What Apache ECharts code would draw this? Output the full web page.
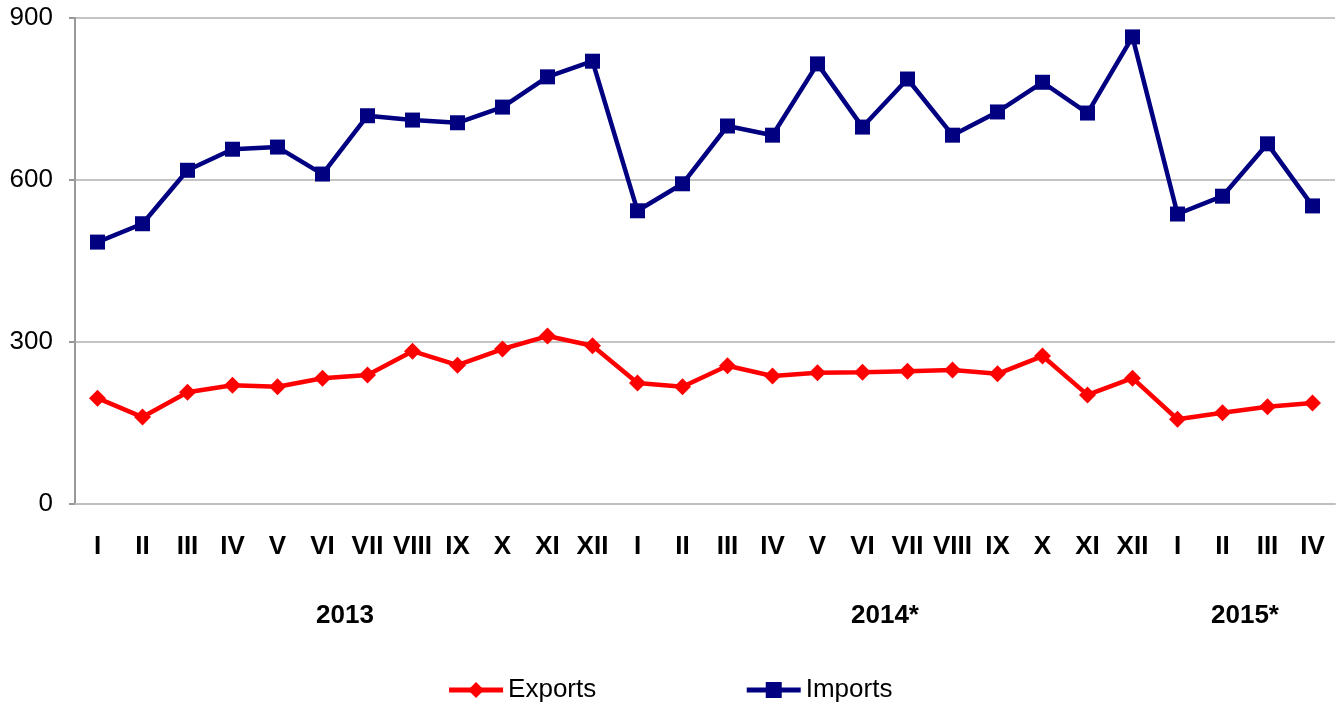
<!DOCTYPE html>
<html>
<head>
<meta charset="utf-8">
<script src="https://cdn.jsdelivr.net/npm/echarts@6/dist/echarts.min.js"></script>
<style>
  html, body { margin: 0; padding: 0; background: #fff; }
  #chart { width: 1339px; height: 702px; }
</style>
</head>
<body>
<div id="chart"></div>
<script>
// months (roman numerals), 2013 .. 2015 IV
var months = ['I','II','III','IV','V','VI','VII','VIII','IX','X','XI','XII',
              'I','II','III','IV','V','VI','VII','VIII','IX','X','XI','XII',
              'I','II','III','IV'];
// year labels, placed at the middle of each year group
var yearLabels = {6: '2013', 18: '2014*', 26: '2015*'};

var exportsData = [196,161,207,220,217,233,239,283,257,287,311,293,
                   224,217,256,237,243,244,246,248,241,274,202,233,
                   157,169,180,187];
var importsData = [485,519,618,657,661,611,719,711,706,735,791,820,
                   543,593,700,683,815,698,787,683,726,781,724,865,
                   537,570,667,552];

var yTicks = [0, 300, 600, 900];

var FONT = '"Liberation Sans", Arial, sans-serif';

var chart = echarts.init(document.getElementById('chart'));
var option = {
    animation: false,
    textStyle: { fontFamily: FONT },
    grid: {
        left: 75,
        right: 4,
        top: 18,
        bottom: 198,
        containLabel: false
    },
    legend: {
        bottom: -6,
        left: 'center',
        itemGap: 148,
        itemWidth: 54,
        itemHeight: 20,
        lineStyle: { width: 5 },
        textStyle: { fontFamily: FONT, fontSize: 26, color: '#000' },
        data: ['Exports', 'Imports']
    },
    xAxis: [{
        type: 'category',
        data: months,
        boundaryGap: true,
        axisLine: { lineStyle: { color: '#bfbfbf', width: 2 } },
        axisTick: { show: false },
        axisLabel: {
            interval: 0,
            margin: 30,
            fontFamily: FONT,
            fontSize: 26,
            fontWeight: 'bold',
            color: '#000'
        }
    }, {
        type: 'value',
        position: 'bottom',
        min: 0,
        max: 28,
        interval: 2,
        axisLine: { show: false },
        axisTick: { show: false },
        splitLine: { show: false },
        axisLabel: {
            margin: 99,
            fontFamily: FONT,
            fontSize: 26,
            fontWeight: 'bold',
            color: '#000',
            formatter: function (v) { return yearLabels[v] || ''; }
        }
    }],
    yAxis: {
        type: 'value',
        min: yTicks[0],
        max: yTicks[yTicks.length - 1],
        interval: 300,
        axisLine: { show: true, lineStyle: { color: '#999', width: 2 } },
        axisTick: { show: true, length: 6, lineStyle: { color: '#999', width: 2 } },
        splitLine: { lineStyle: { color: '#b0b0b0', width: 1.5 } },
        axisLabel: {
            margin: 22,
            fontFamily: FONT,
            fontSize: 26,
            color: '#000'
        }
    },
    series: [{
        name: 'Exports',
        type: 'line',
        data: exportsData,
        symbol: 'diamond',
        symbolSize: 17,
        lineStyle: { color: '#ff0000', width: 4.5 },
        itemStyle: { color: '#ff0000' }
    }, {
        name: 'Imports',
        type: 'line',
        data: importsData,
        symbol: 'rect',
        symbolSize: 15,
        lineStyle: { color: '#000080', width: 4.5 },
        itemStyle: { color: '#000080' }
    }]
};
chart.setOption(option);
</script>
</body>
</html>
